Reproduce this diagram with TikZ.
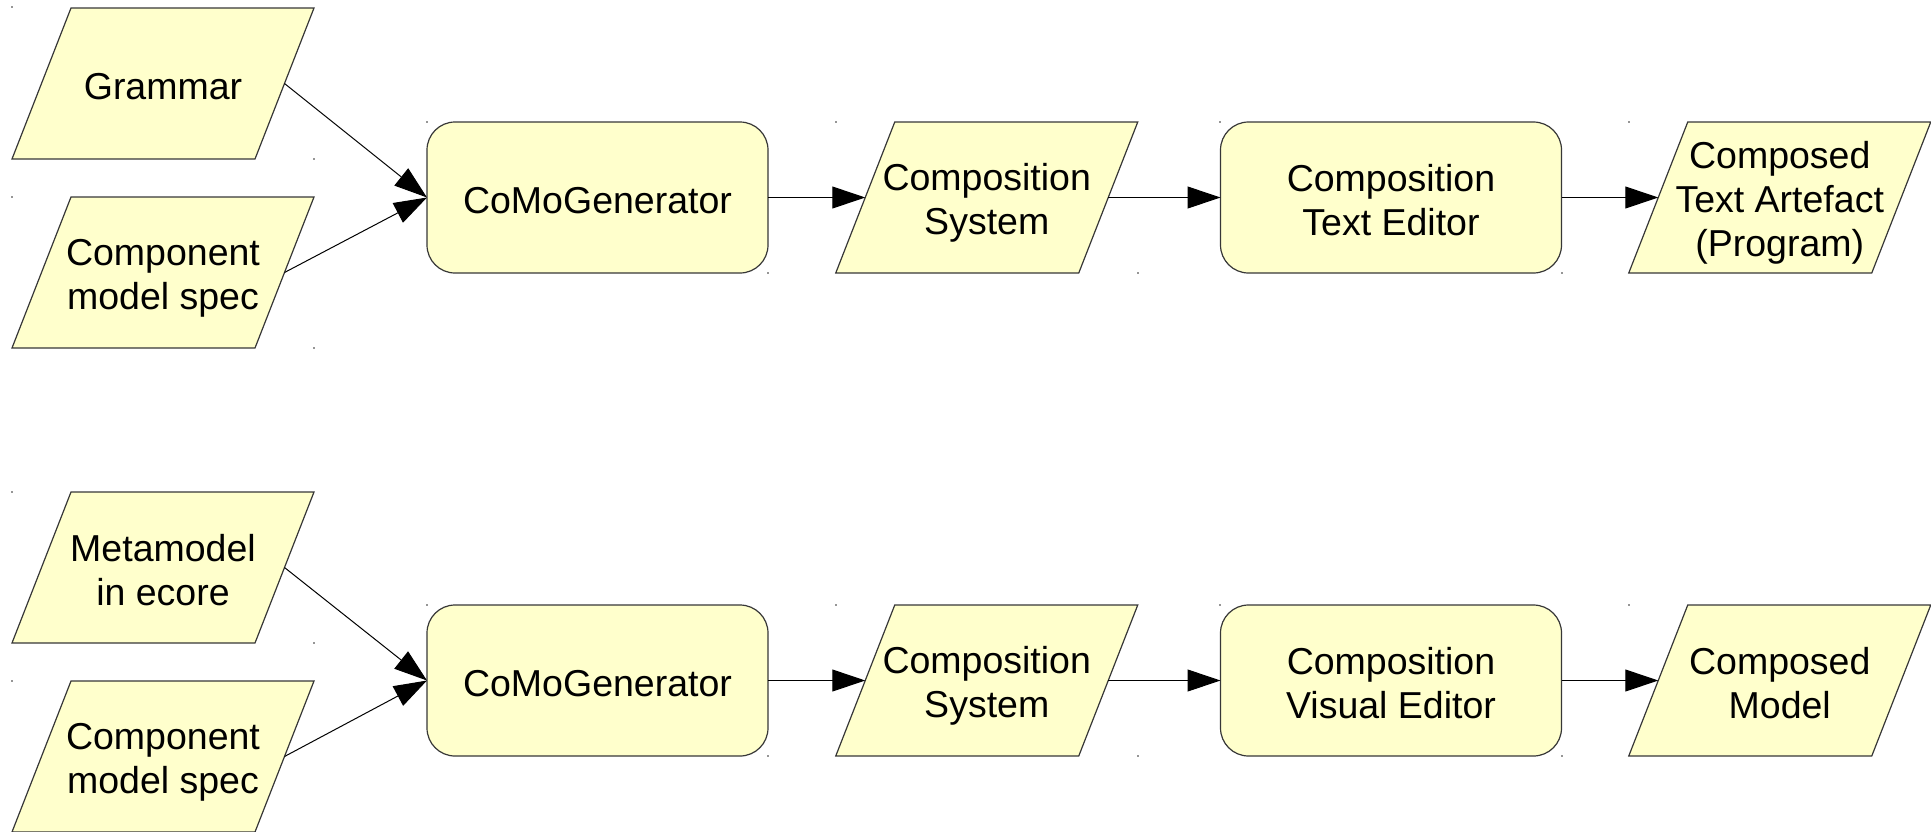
\documentclass[tikz,border=0pt]{standalone}
\usepackage{fontspec}
\setmainfont{Liberation Sans}
\usetikzlibrary{arrows.meta}

\definecolor{paleyellow}{RGB}{255,255,204}
\definecolor{bordergray}{RGB}{55,55,55}
\definecolor{handlegray}{RGB}{150,150,150}

% A rectangle-based shape whose outline is a parallelogram:
% the top edge is shifted right and the bottom edge left by \slantoff,
% so that the west/east anchors lie on the midpoints of the slanted sides.
\makeatletter
\def\slantoff{29.5pt}
\pgfdeclareshape{slantbox}{%
  \inheritsavedanchors[from=rectangle]%
  \inheritanchorborder[from=rectangle]%
  \inheritanchor[from=rectangle]{center}%
  \inheritanchor[from=rectangle]{north}%
  \inheritanchor[from=rectangle]{south}%
  \inheritanchor[from=rectangle]{east}%
  \inheritanchor[from=rectangle]{west}%
  \inheritanchor[from=rectangle]{north east}%
  \inheritanchor[from=rectangle]{north west}%
  \inheritanchor[from=rectangle]{south east}%
  \inheritanchor[from=rectangle]{south west}%
  \inheritanchor[from=rectangle]{text}%
  \inheritanchor[from=rectangle]{base}%
  \inheritanchor[from=rectangle]{mid}%
  \backgroundpath{%
    \southwest \pgf@xa=\pgf@x \pgf@ya=\pgf@y
    \northeast \pgf@xb=\pgf@x \pgf@yb=\pgf@y
    \pgfutil@tempdima=\slantoff
    \pgfpathmoveto{\pgfqpoint{\dimexpr\pgf@xa-\pgfutil@tempdima\relax}{\pgf@ya}}%
    \pgfpathlineto{\pgfqpoint{\dimexpr\pgf@xb-\pgfutil@tempdima\relax}{\pgf@ya}}%
    \pgfpathlineto{\pgfqpoint{\dimexpr\pgf@xb+\pgfutil@tempdima\relax}{\pgf@yb}}%
    \pgfpathlineto{\pgfqpoint{\dimexpr\pgf@xa+\pgfutil@tempdima\relax}{\pgf@yb}}%
    \pgfpathclose
  }%
}
\makeatother

% Centred lines of text, each in a fixed 44pt line box
% (38pt above the baseline, 6pt below), so the block centres evenly.
\newcommand\stack[1]{{\let\\\cr
  \vbox{\baselineskip=44pt\lineskiplimit=-100pt\lineskip=0pt
    \halign{\hfil\vrule height 38pt depth 6pt width 0pt##\hfil\cr#1\crcr}}}}

\tikzset{
  every node/.style={font=\fontsize{37.5}{44}\selectfont,
    inner sep=0pt, outer sep=0pt},
  datanode/.style={shape=slantbox, draw=bordergray, fill=paleyellow,
    line width=1.2pt, minimum width=243pt, minimum height=151pt},
  procnode/.style={rectangle, rounded corners=28pt, draw=bordergray,
    fill=paleyellow, line width=1.2pt, minimum width=341pt, minimum height=151pt},
  flow/.style={draw=black, line width=1pt, -{Triangle[length=33pt,width=22pt]}},
  handle/.style={fill=handlegray}
}

\begin{document}
\begin{tikzpicture}[x=1pt,y=-1pt]
\useasboundingbox (0,0) rectangle (1931,831);

% ---- text pipeline ----
\node[datanode] (gram)  at (163,83.5)     {\stack{Grammar}};
\node[datanode] (comp1) at (163,272.5)    {\stack{Component\\model spec}};
\node[procnode] (gen1)  at (597.5,197.5)  {\stack{CoMoGenerator}};
\node[datanode] (sys1)  at (986.75,197.5) {\stack{Composition\\System}};
\node[procnode] (ed1)   at (1391,197.5)   {\stack{Composition\\Text Editor}};
\node[datanode] (out1)  at (1779.75,197.5){\stack{Composed\\Text Artefact\\(Program)}};

\draw[flow] (gram.east)  -- (gen1.west);
\draw[flow] (comp1.east) -- (gen1.west);
\draw[flow] (gen1.east)  -- (sys1.west);
\draw[flow] (sys1.east)  -- (ed1.west);
\draw[flow] (ed1.east)   -- (out1.west);

% ---- model pipeline ----
\node[datanode] (meta)  at (163,567.5)    {\stack{Metamodel\\in ecore}};
\node[datanode] (comp2) at (163,756.5)    {\stack{Component\\model spec}};
\node[procnode] (gen2)  at (597.5,680.5)  {\stack{CoMoGenerator}};
\node[datanode] (sys2)  at (986.75,680.5) {\stack{Composition\\System}};
\node[procnode] (ed2)   at (1391,680.5)   {\stack{Composition\\Visual Editor}};
\node[datanode] (out2)  at (1779.75,680.5){\stack{Composed\\Model}};

\draw[flow] (meta.east)  -- (gen2.west);
\draw[flow] (comp2.east) -- (gen2.west);
\draw[flow] (gen2.east)  -- (sys2.west);
\draw[flow] (sys2.east)  -- (ed2.west);
\draw[flow] (ed2.east)   -- (out2.west);

% ---- small handle marks at the shapes' bounding-box corners ----
\foreach \p in {(12,7),(314,159),(12,197),(314,348),
                (427,122),(768,273),(836,122),(1138,273),
                (1220,122),(1562,273),(1629,122),
                (12,492),(314,643),(12,681),
                (427,605),(768,756),(836,605),(1138,756),
                (1220,605),(1562,756),(1629,605)}
  \fill[handle] \p ++(-0.8,-0.8) rectangle ++(1.6,1.6);
\end{tikzpicture}
\end{document}
